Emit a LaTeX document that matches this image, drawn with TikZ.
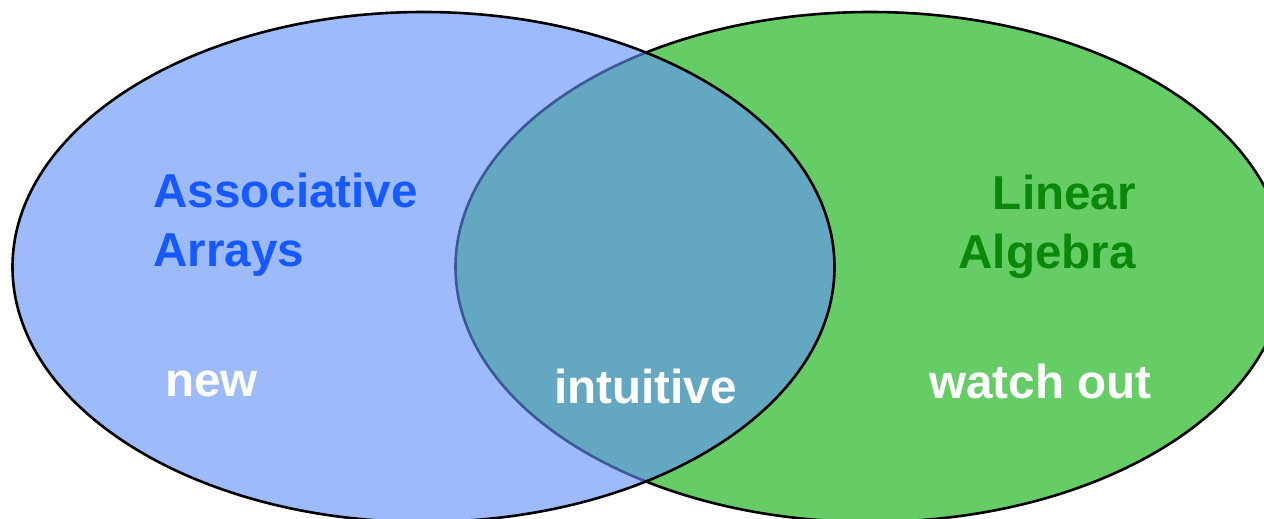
\documentclass[tikz,border=0pt]{standalone}
\usepackage{fontspec}
\setmainfont{Liberation Sans}
\definecolor{leftfill}{HTML}{9DBAFA}
\definecolor{rightfill}{HTML}{66CD66}
\definecolor{bothfill}{HTML}{63A8C0}
\definecolor{innerline}{HTML}{3B5898}
\definecolor{bluetext}{HTML}{1659FF}
\definecolor{greentext}{HTML}{0A880A}
\begin{document}
\begin{tikzpicture}[x=1pt,y=-1pt,
  rim/.style={line width=2.6pt},
  label/.style={inner sep=0pt, font=\fontsize{47.6}{59}\selectfont\bfseries}]
\useasboundingbox (0,0) rectangle (1264,519);
\def\leftset{(423.5,267) ellipse [x radius=411, y radius=255]}
\def\rightset{(870.5,267) ellipse [x radius=415, y radius=255]}
\begin{scope}
  \clip (0,0) rectangle (1264,519);
  % right set, then left set on top
  \filldraw[rim, fill=rightfill, draw=black] \rightset;
  \fill[leftfill] \leftset;
  % the common part
  \begin{scope}
    \clip \rightset;
    \fill[bothfill] \leftset;
  \end{scope}
  % rim of the right set seen through the left set
  \begin{scope}
    \clip \leftset;
    \draw[rim, innerline] \rightset;
  \end{scope}
  \draw[rim, black] \leftset;
\end{scope}
% labels (base anchor of a two-line node sits on its last line)
\node[label, anchor=base west, align=left, text=bluetext] (assoc) at (153,266) {Associative\\Arrays};
\node[label, anchor=base east, align=right, text=greentext] (linalg) at (1136,268) {Linear\\Algebra};
\node[label, anchor=base west, text=white] (new) at (165,396) {new};
\node[label, anchor=base west, text=white] (intuitive) at (554,403) {intuitive};
\node[label, anchor=base west, text=white] (watch) at (929,398) {watch out};
\end{tikzpicture}
\end{document}
